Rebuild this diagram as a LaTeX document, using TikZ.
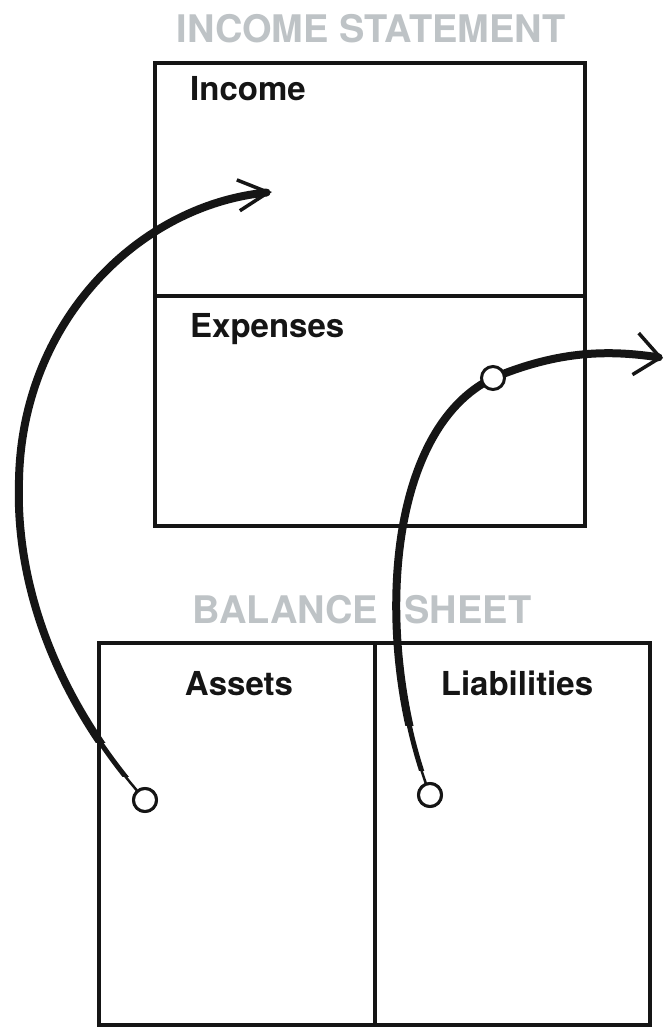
\documentclass[tikz,border=0pt]{standalone}
\usepackage{fontspec}
\setmainfont{TeX Gyre Heros}
\usetikzlibrary{arrows.meta}
\definecolor{titlegray}{HTML}{BEC3C6}
\definecolor{ink}{HTML}{151515}
\tikzset{
  box/.style={draw=ink, line width=4pt, anchor=north west, inner sep=0pt, outer sep=0pt},
  boxlabel/.style={font=\bfseries\fontsize{33}{36}\selectfont, text=ink, inner sep=0pt},
  title/.style={font=\bfseries\fontsize{38}{42}\selectfont, text=titlegray, inner sep=0pt, anchor=base},
  stroke/.style={draw=ink, line width=8pt, line cap=round},
  midstroke/.style={draw=ink, line width=5pt, line cap=round},
  thinstroke/.style={draw=ink, line width=2.5pt, line cap=round},
  ring/.style={circle, draw=ink, line width=3pt, fill=white, minimum size=23pt, inner sep=0pt},
}
\begin{document}
\begin{tikzpicture}[x=1pt,y=-1pt]
\fill[white] (0,0) rectangle (667,1028);
\useasboundingbox (0,0) rectangle (667,1028);

% titles
\node[title] (istitle) at (371,42) {INCOME STATEMENT};
\node[title] (bstitle) at (362,623) {BALANCE\hspace{0.7em}SHEET};

% income statement boxes
\node[box, minimum width=430pt, minimum height=233pt] (income) at (155,63) {};
\node[box, minimum width=430pt, minimum height=230pt] (expenses) at (155,296) {};
\node[boxlabel, anchor=base west] (incomelbl) at (190,100) {Income};
\node[boxlabel, anchor=base west] (expenseslbl) at (190,337) {Expenses};

% balance sheet boxes
\node[box, minimum width=276pt, minimum height=382pt] (assets) at (99,643) {};
\node[box, minimum width=275pt, minimum height=382pt] (liabilities) at (375,643) {};
\node[boxlabel, anchor=base] (assetslbl) at (239,695) {Assets};
\node[boxlabel, anchor=base] (liablbl) at (517,695) {Liabilities};

% connector points
\coordinate (l1) at (19,480);
\coordinate (tip1) at (272,192);
\coordinate (m2) at (493,378);
\coordinate (tip2) at (663,358);

% circles
\node[ring] (c1) at (145,800) {};
\node[ring] (c2) at (430,795) {};

% curve 1: assets -> income (tapering toward the ring)
\draw[thinstroke] (c1) .. controls (60,700) and (15,590) .. (l1);
\begin{scope}
  \clip (0,0) rectangle (667,776);
  \draw[midstroke] (c1) .. controls (60,700) and (15,590) .. (l1);
\end{scope}
\begin{scope}
  \clip (0,0) rectangle (667,742);
  \draw[stroke, -{Straight Barb[length=30pt,width=31pt,line width=3.5pt]}]
    (c1) .. controls (60,700) and (15,590) .. (l1)
         .. controls (22,320) and (140,205) .. (tip1);
\end{scope}

% curve 2: liabilities -> expenses -> out
\draw[thinstroke] (c2) .. controls (375,640) and (385,430) .. (m2);
\begin{scope}
  \clip (0,0) rectangle (667,770);
  \draw[midstroke] (c2) .. controls (375,640) and (385,430) .. (m2);
\end{scope}
\begin{scope}
  \clip (0,0) rectangle (667,725);
  \draw[stroke, -{Straight Barb[length=25pt,width=42pt,line width=3.5pt]}]
    (c2) .. controls (375,640) and (385,430) .. (m2)
         .. controls (560,350) and (610,350) .. (tip2);
\end{scope}

% rings on top
\node[ring] at (c1) {};
\node[ring] at (c2) {};
\node[ring] (mid2) at (m2) {};
\end{tikzpicture}
\end{document}
